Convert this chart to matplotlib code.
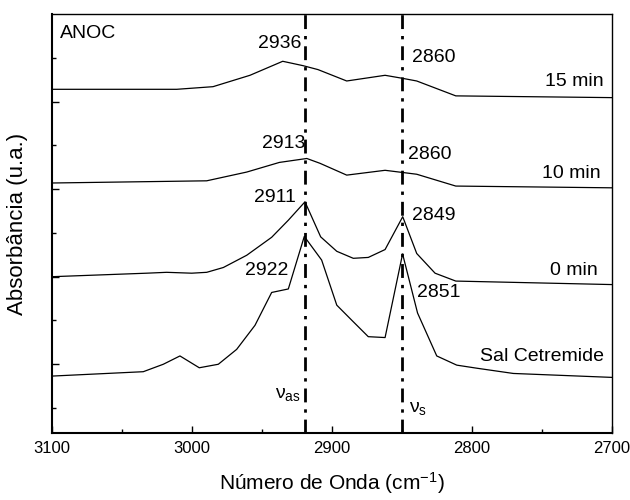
import matplotlib
matplotlib.use("Agg")
import matplotlib.pyplot as plt
from matplotlib.ticker import FixedLocator

plt.rcParams['font.family'] = ['Liberation Sans', 'DejaVu Sans']
plt.rcParams['mathtext.fontset'] = 'custom'
plt.rcParams['mathtext.rm'] = 'Liberation Sans'
plt.rcParams['mathtext.it'] = 'Liberation Sans'

# espectros (deslocados verticalmente)
x_15 = [3100, 3010.9, 2985, 2958.6, 2935.2, 2920.7, 2910, 2889.5, 2862.1, 2849.5, 2839.5, 2811.6, 2700]
y_15 = [7.28, 7.28, 7.34, 7.60, 7.92, 7.82, 7.73, 7.47, 7.60, 7.53, 7.47, 7.13, 7.09]

x_10 = [3100, 2989.5, 2960.9, 2937.6, 2918, 2908.6, 2889.5, 2862.1, 2849.5, 2839.5, 2811.6, 2700]
y_10 = [5.14, 5.19, 5.39, 5.61, 5.70, 5.59, 5.32, 5.43, 5.38, 5.34, 5.07, 5.03]

x_0 = [3100, 3032.4, 3018.1, 3000.2, 2989.5, 2977.6, 2960.9, 2943.1, 2931.2, 2919.3,
       2908.1, 2896.6, 2884.8, 2874.1, 2862.1, 2849.5, 2839.5, 2826.4, 2811.6, 2700]
y_0 = [3.00, 3.08, 3.10, 3.08, 3.10, 3.21, 3.49, 3.90, 4.29, 4.71,
       3.91, 3.58, 3.42, 3.44, 3.62, 4.37, 3.53, 3.08, 2.90, 2.82]

x_sal = [3100, 3034.8, 3020.5, 3008.6, 2994.8, 2981.2, 2968.1, 2955.0, 2943.1, 2931.2, 2919.8, 2907.4,
         2896.6, 2885.4, 2874.1, 2862.1, 2849.6, 2838.9, 2825.2, 2810.9, 2796.6, 2770.5, 2700]
y_sal = [0.73, 0.83, 1.00, 1.19, 0.92, 1.00, 1.34, 1.89, 2.64, 2.72, 3.92, 3.38,
         2.35, 1.99, 1.63, 1.61, 3.52, 2.17, 1.19, 0.98, 0.91, 0.79, 0.70]

v_as = 2919
v_s = 2850

fig = plt.figure(figsize=(6.3, 5.0), dpi=100)
ax = fig.add_axes([0.0825, 0.134, 0.889, 0.838])

for xs, ys in [(x_15, y_15), (x_10, y_10), (x_0, y_0), (x_sal, y_sal)]:
    ax.plot(xs, ys, color='black', lw=0.9)

ax.axvline(v_as, color='black', lw=2, ls='-.', dashes=(5, 2.5, 1.2, 2.5))
ax.axvline(v_s, color='black', lw=2, ls='-.', dashes=(5, 2.5, 1.2, 2.5))

ax.set_xlim(3100, 2700)
ax.set_ylim(-0.57, 9.0)

ax.xaxis.set_major_locator(FixedLocator([3100, 3000, 2900, 2800, 2700]))
ax.xaxis.set_minor_locator(FixedLocator([3050, 2950, 2850, 2750]))
ax.yaxis.set_major_locator(FixedLocator([1, 3, 5, 7]))
ax.yaxis.set_minor_locator(FixedLocator([0, 2, 4, 6, 8]))
ax.set_yticklabels([])
ax.tick_params(which='both', direction='in', top=False, right=False)
ax.tick_params(which='major', length=5, width=1)
ax.tick_params(which='minor', length=3, width=1)
ax.tick_params(axis='x', labelsize=12, pad=6)
for s in ax.spines.values():
    s.set_linewidth(1)
ax.spines['bottom'].set_linewidth(1.5)
ax.spines['left'].set_linewidth(1.5)

ax.set_xlabel('Número de Onda (cm$^{-1}$)', fontsize=15, labelpad=10)
ax.set_ylabel('Absorbância (u.a.)', fontsize=16, labelpad=14)

fs = 14
ax.text(3094, 8.55, 'ANOC', fontsize=fs, va='center')
ax.text(2922, 8.33, '2936', fontsize=fs, ha='right', va='center')
ax.text(2843, 8.0, '2860', fontsize=fs, ha='left', va='center')
ax.text(2706, 7.45, '15 min', fontsize=fs, ha='right', va='center')
ax.text(2919, 6.05, '2913', fontsize=fs, ha='right', va='center')
ax.text(2846, 5.8, '2860', fontsize=fs, ha='left', va='center')
ax.text(2708, 5.36, '10 min', fontsize=fs, ha='right', va='center')
ax.text(2926, 4.8, '2911', fontsize=fs, ha='right', va='center')
ax.text(2843, 4.4, '2849', fontsize=fs, ha='left', va='center')
ax.text(2710, 3.15, '0 min', fontsize=fs, ha='right', va='center')
ax.text(2931, 3.15, '2922', fontsize=fs, ha='right', va='center')
ax.text(2839, 2.65, '2851', fontsize=fs, ha='left', va='center')
ax.text(2706, 1.17, 'Sal Cetremide', fontsize=fs, ha='right', va='center')
ax.text(2922, 0.3, r'$\mathregular{\nu_{as}}$', fontsize=fs, ha='right', va='center')
ax.text(2845, 0.0, r'$\mathregular{\nu_{s}}$', fontsize=fs, ha='left', va='center')

fig.savefig('out.png', dpi=100)
